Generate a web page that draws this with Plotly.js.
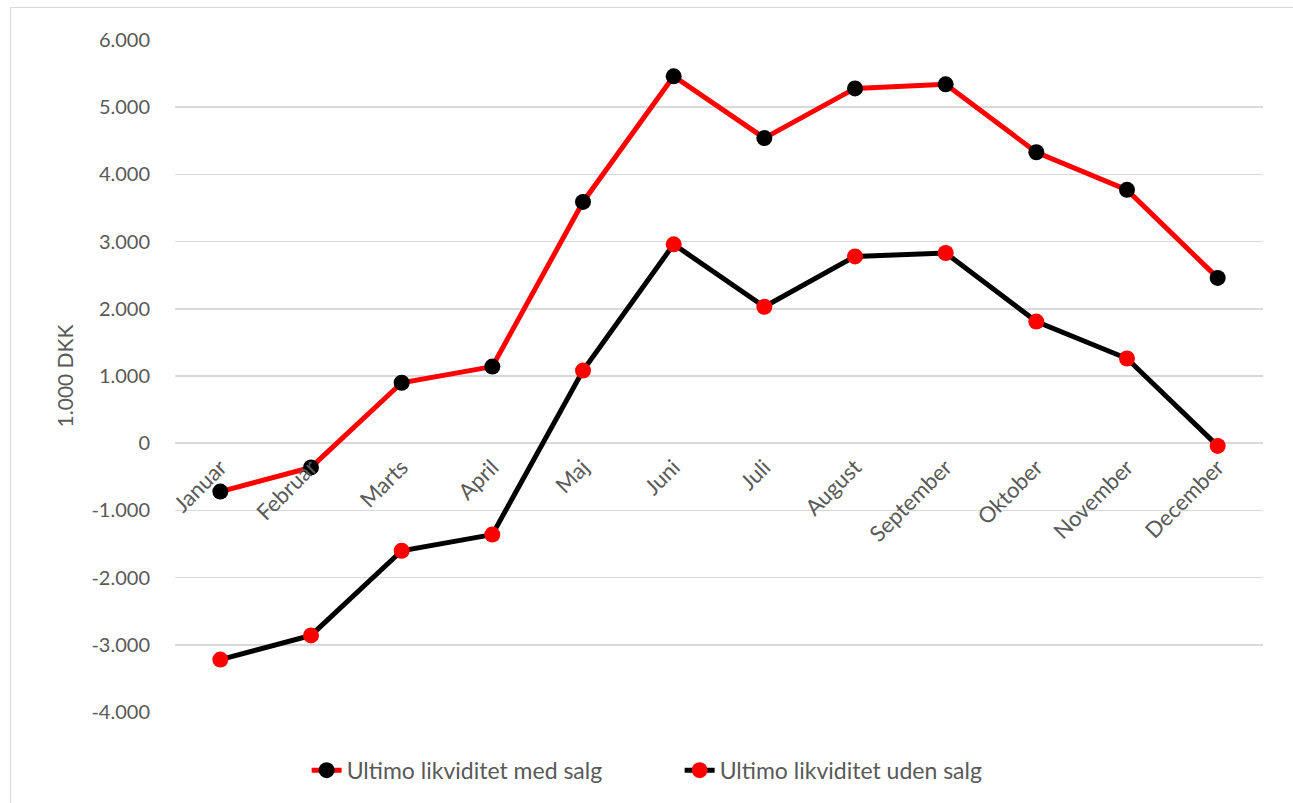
<!DOCTYPE html>
<html>
<head>
<meta charset="utf-8">
<script src="https://cdn.plot.ly/plotly-3.0.1.min.js"></script>
<style>
  html, body { margin:0; padding:0; background:#fff; overflow:hidden; }
  #chart { width:1293px; height:803px; }
  #frame { position:absolute; left:10px; top:7px; width:1400px; height:900px; border:1.5px solid #d9d9d9; pointer-events:none; }
</style>
</head>
<body>
<div id="chart"></div>
<div id="frame"></div>
<script>
const months = ["Januar","Februar","Marts","April","Maj","Juni","Juli","August","September","Oktober","November","December"];
const medSalg = [-720, -360, 900, 1140, 3590, 5460, 4540, 5280, 5340, 4330, 3770, 2460];
const udenSalg = [-3220, -2860, -1600, -1360, 1080, 2960, 2030, 2780, 2830, 1810, 1260, -40];
const yTickVals = [-4000,-3000,-2000,-1000,0,1000,2000,3000,4000,5000,6000];
const yTickText = ["-4.000","-3.000","-2.000","-1.000","0","1.000","2.000","3.000","4.000","5.000","6.000"];

const fontFam = "Lato, 'Open Sans', sans-serif";
const traces = [
  {
    x: months, y: medSalg, type: "scatter", mode: "lines+markers",
    name: "Ultimo likviditet med salg",
    line: {color: "#ff0000", width: 5},
    marker: {color: "#000000", size: 16}
  },
  {
    x: months, y: udenSalg, type: "scatter", mode: "lines+markers",
    name: "Ultimo likviditet uden salg",
    line: {color: "#000000", width: 5},
    marker: {color: "#ff0000", size: 16}
  }
];

const layout = {
  width: 1293, height: 803,
  margin: {l: 175, r: 30, t: 40, b: 90},
  paper_bgcolor: "#ffffff", plot_bgcolor: "#ffffff",
  font: {family: fontFam, color: "#595959", size: 20},
  showlegend: true,
  legend: {orientation: "h", x: 0.121, xanchor: "left", y: -0.085, yanchor: "middle",
           font: {size: 23, color: "#595959"}, entrywidth: 328, entrywidthmode: "pixels",
           traceorder: "normal"},
  xaxis: {
    type: "category", tickangle: -45, showgrid: false, zeroline: false,
    showline: false, ticks: "", anchor: "free", position: 0.4,
    ticklabelstandoff: 6,
    tickfont: {size: 22, color: "#595959"}, range: [-0.5, 11.5], fixedrange: true
  },
  yaxis: {
    range: [-4000, 6000], tickvals: yTickVals, ticktext: yTickText,
    showgrid: true, gridcolor: "#d9d9d9", gridwidth: 1.5, zeroline: false,
    showline: false, ticks: "", ticklabelstandoff: 24,
    tickfont: {size: 20, color: "#595959"},
    title: {text: "1.000 DKK", font: {size: 21, color: "#595959"}, standoff: 12}
  }
};
Plotly.newPlot("chart", traces, layout, {displayModeBar: false, staticPlot: true});
</script>
</body>
</html>
